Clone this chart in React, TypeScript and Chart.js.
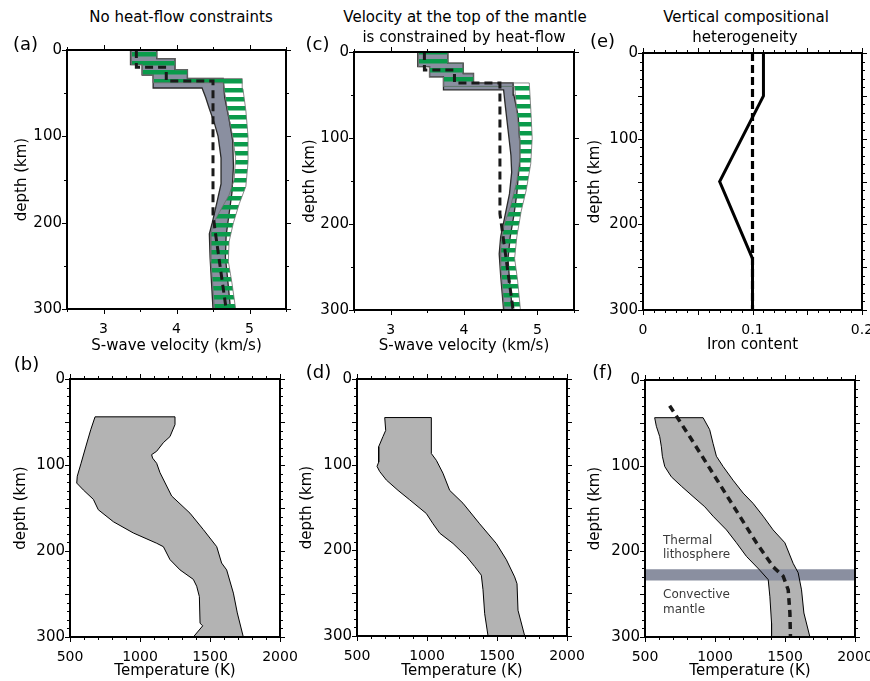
import React, { useEffect, useRef } from 'react';
import { Chart, registerables } from 'chart.js';

Chart.register(...registerables);

type Pt = [number, number];

const FONT = "'DejaVu Sans', 'Liberation Sans', sans-serif";
const GREEN = '#0a9b4b';
const SLATE = '#8a8fa0';
const FILL_GRAY = '#b3b3b3';

// ---------- tick labels ----------
const velocityTicks = [3, 4, 5];
const ironTicks = [0, 0.1, 0.2];
const tempTicks = [500, 1000, 1500, 2000];
const depthTicks = [0, 100, 200, 300];

// ---------- panel (a): [velocity km/s, depth km] ----------
const aGrayBand: Pt[] = [
  [3.37, 0], [3.37, 17], [3.53, 17], [3.53, 29], [3.68, 29], [3.68, 44], [4.35, 44], [4.40, 55], [4.45, 68],
  [4.52, 85], [4.57, 100], [4.61, 125], [4.61, 155], [4.55, 178], [4.49, 200], [4.45, 213], [4.46, 240],
  [4.48, 270], [4.50, 300], [4.74, 300], [4.70, 265], [4.67, 240], [4.68, 215], [4.72, 190], [4.76, 165],
  [4.78, 135], [4.77, 105], [4.72, 80], [4.66, 55], [4.64, 33], [4.15, 33], [4.15, 23], [3.98, 23],
  [3.98, 10], [3.73, 10], [3.73, 0],
];
const aGreenBand: Pt[] = [
  [3.38, 0], [3.38, 17], [3.53, 17], [3.53, 29], [3.68, 29], [3.68, 38], [4.64, 38], [4.66, 50], [4.71, 75],
  [4.77, 100], [4.81, 125], [4.79, 150], [4.72, 168], [4.62, 183], [4.52, 198], [4.47, 213], [4.47, 245],
  [4.50, 275], [4.52, 300], [4.81, 300], [4.76, 270], [4.71, 245], [4.72, 222], [4.78, 200], [4.86, 178],
  [4.95, 158], [4.98, 130], [4.98, 100], [4.95, 70], [4.91, 45], [4.90, 33], [4.15, 33], [4.15, 23],
  [3.98, 23], [3.98, 10], [3.73, 10], [3.73, 0],
];
const aTrueModel: Pt[] = [
  [3.45, 0], [3.45, 20], [3.86, 20], [3.86, 36], [4.50, 36], [4.50, 190], [4.53, 210], [4.68, 300],
];

// ---------- panel (c) ----------
const cGrayBand: Pt[] = [
  [3.37, 0], [3.37, 17], [3.53, 17], [3.53, 29], [3.72, 29], [3.72, 44], [4.54, 44], [4.56, 60], [4.60, 90],
  [4.64, 120], [4.65, 140], [4.62, 165], [4.56, 190], [4.50, 215], [4.48, 235], [4.50, 260], [4.54, 300],
  [4.66, 300], [4.62, 265], [4.60, 240], [4.63, 215], [4.68, 190], [4.72, 165], [4.75, 135], [4.76, 105],
  [4.74, 75], [4.68, 50], [4.67, 36], [4.13, 36], [4.13, 25], [3.99, 25], [3.99, 13], [3.78, 13], [3.78, 0],
];
const cGreenBand: Pt[] = [
  [3.38, 0], [3.38, 17], [3.53, 17], [3.53, 29], [3.72, 29], [3.72, 40], [4.69, 40], [4.72, 70], [4.76, 100],
  [4.76, 125], [4.72, 150], [4.64, 178], [4.55, 200], [4.50, 225], [4.50, 250], [4.53, 280], [4.55, 300],
  [4.77, 300], [4.73, 265], [4.69, 240], [4.72, 215], [4.78, 185], [4.85, 160], [4.91, 130], [4.93, 100],
  [4.91, 65], [4.89, 36], [4.13, 36], [4.13, 25], [3.99, 25], [3.99, 13], [3.78, 13], [3.78, 0],
];
const cTrueModel: Pt[] = [
  [3.46, 0], [3.46, 21], [3.87, 21], [3.87, 36], [4.49, 36], [4.49, 188], [4.67, 300],
];

// ---------- panel (e): [iron content, depth] ----------
const eIronProfile: Pt[] = [[0.11, 0], [0.11, 50], [0.07, 150], [0.10, 240], [0.10, 300]];
const eIronReference: Pt[] = [[0.10, 0], [0.10, 300]];

// ---------- panels (b), (d), (f): [temperature K, depth] ----------
const bTempBand: Pt[] = [
  [679, 44], [648, 59], [614, 78], [579, 98], [552, 113], [548, 121], [595, 129], [667, 140], [702, 152],
  [810, 166], [952, 179], [1119, 191], [1167, 195], [1214, 210], [1286, 222], [1381, 233], [1405, 241],
  [1424, 253], [1429, 284], [1448, 287], [1381, 300], [1738, 300], [1695, 272], [1667, 249], [1619, 222],
  [1583, 214], [1548, 195], [1452, 175], [1357, 156], [1226, 136], [1143, 109], [1119, 98], [1090, 92],
  [1083, 88], [1119, 84], [1167, 74], [1214, 67], [1250, 53], [1250, 44],
];
const dTempBand: Pt[] = [
  [698, 45], [705, 60], [686, 67], [655, 79], [655, 97], [643, 102], [662, 108], [710, 118], [793, 130],
  [876, 141], [995, 157], [1043, 169], [1091, 180], [1186, 192], [1281, 207], [1341, 219], [1388, 229],
  [1400, 246], [1412, 274], [1436, 300], [1698, 300], [1650, 270], [1643, 239], [1626, 231], [1567, 211],
  [1495, 192], [1376, 169], [1257, 145], [1162, 130], [1114, 110], [1067, 95], [1031, 87], [1031, 45],
];
const fTempBand: Pt[] = [
  [569, 44], [581, 54], [605, 66], [617, 78], [624, 89], [641, 101], [688, 113], [760, 124], [843, 136],
  [927, 148], [986, 159], [1082, 175], [1153, 190], [1225, 206], [1320, 222], [1380, 233], [1392, 253],
  [1404, 284], [1404, 300], [1678, 300], [1635, 272], [1618, 245], [1594, 225], [1558, 214], [1499, 190],
  [1415, 175], [1344, 159], [1272, 144], [1201, 132], [1129, 117], [1058, 101], [1010, 89], [986, 74],
  [962, 58], [915, 44],
];
const fTempModel: Pt[] = [
  [676, 30], [819, 66], [939, 97], [1058, 128], [1177, 159], [1296, 190], [1415, 218], [1487, 229],
  [1523, 245], [1535, 272], [1539, 300],
];
const fLithosphereBase: Pt[] = [[500, 221], [2000, 221], [2000, 234], [500, 234]];

// ---------- helpers ----------
const toXY = (pts: Pt[]) => pts.map(([x, y]) => ({ x, y }));

function polygon(pts: Pt[], fill: any, stroke: string, width: number, order: number) {
  return {
    data: toXY([...pts, pts[0]]),
    polyFill: fill,
    borderColor: stroke,
    borderWidth: width,
    fill: false,
    pointRadius: 0,
    tension: 0,
    order,
  };
}
function fillOnly(pts: Pt[], fill: any, order: number) {
  return { data: toXY(pts), polyFill: fill, showLine: false, fill: false, pointRadius: 0, order };
}
function outline(pts: Pt[], stroke: string, width: number, order: number) {
  return { data: toXY([...pts, pts[0]]), borderColor: stroke, borderWidth: width, fill: false, pointRadius: 0, tension: 0, order };
}
function line(pts: Pt[], color: string, width: number, dash: number[], order: number) {
  return {
    data: toXY(pts),
    borderColor: color,
    borderWidth: width,
    borderDash: dash,
    borderCapStyle: 'butt',
    borderJoinStyle: 'miter',
    fill: false,
    pointRadius: 0,
    tension: 0,
    order,
  };
}

const polyFillPlugin = {
  id: 'polyFill',
  beforeDatasetDraw(chart: any, args: any) {
    const ds = chart.data.datasets[args.index];
    if (!ds || !ds.polyFill) return;
    const pts = args.meta.data;
    const { ctx, chartArea: a } = chart;
    ctx.save();
    ctx.beginPath();
    ctx.rect(a.left, a.top, a.right - a.left, a.bottom - a.top);
    ctx.clip();
    ctx.beginPath();
    pts.forEach((p: any, i: number) => (i ? ctx.lineTo(p.x, p.y) : ctx.moveTo(p.x, p.y)));
    ctx.closePath();
    ctx.fillStyle = ds.polyFill;
    ctx.fill();
    ctx.restore();
  },
};

function makeFrame(p: any) {
  return {
    id: 'frame',
    afterDraw(chart: any) {
      const { ctx, chartArea: a, scales } = chart;
      const xs = scales.x;
      const ys = scales.y;
      const isMajor = (v: number, m: number) => Math.abs(v / m - Math.round(v / m)) < 1e-6;
      ctx.save();
      ctx.strokeStyle = '#000';
      ctx.lineWidth = 1;
      ctx.beginPath();
      const nx = Math.round((p.xMax - p.xMin) / p.xMinor);
      for (let i = 0; i <= nx; i++) {
        const v = p.xMin + i * p.xMinor;
        const len = isMajor(v, p.xMajor) ? 5 : 3;
        const px = Math.round(xs.getPixelForValue(v)) + 0.5;
        ctx.moveTo(px, a.top);
        ctx.lineTo(px, a.top - len);
        ctx.moveTo(px, a.bottom);
        ctx.lineTo(px, a.bottom + len);
      }
      const ny = Math.round(300 / p.yMinor);
      for (let i = 0; i <= ny; i++) {
        const v = i * p.yMinor;
        const len = isMajor(v, p.yMajor) ? 5 : 3;
        const py = Math.round(ys.getPixelForValue(v)) + 0.5;
        ctx.moveTo(a.left, py);
        ctx.lineTo(a.left - len, py);
        ctx.moveTo(a.right, py);
        ctx.lineTo(a.right + len, py);
      }
      ctx.stroke();
      ctx.lineWidth = 2;
      ctx.strokeRect(a.left, a.top, a.right - a.left, a.bottom - a.top);
      ctx.restore();
    },
  };
}

function makeStripes(ctx: CanvasRenderingContext2D, offset: number) {
  const c = document.createElement('canvas');
  c.width = 8;
  c.height = 9;
  const g = c.getContext('2d')!;
  g.fillStyle = GREEN;
  g.fillRect(0, 0, 8, 4.5);
  const pat = ctx.createPattern(c, 'repeat')!;
  if ((pat as any).setTransform && typeof DOMMatrix !== 'undefined') {
    pat.setTransform(new DOMMatrix().translate(0, offset));
  }
  return pat;
}

// ---------- panel layout ----------
const PANELS: any[] = [
  {
    canvas: [13, 40, 296, 355], plot: [67, 50, 286, 309], yPad: 5,
    xMin: 2.5, xMax: 5.5, xLabels: velocityTicks, xMinor: 0.5, xMajor: 1, yMinor: 50, yMajor: 100,
    xTitle: 'S-wave velocity (km/s)', stripeOffset: 3,
    datasets: (pat: any) => [
      polygon(aGrayBand, SLATE, '#2a2a2a', 1.3, 3),
      polygon(aGreenBand, pat, '#6e6e6e', 0.8, 2),
      line(aTrueModel, '#1a1a1a', 3, [8, 5], 1),
    ],
  },
  {
    canvas: [301, 42, 584, 355], plot: [354, 52, 574, 310], yPad: 5,
    xMin: 2.5, xMax: 5.5, xLabels: velocityTicks, xMinor: 0.5, xMajor: 1, yMinor: 50, yMajor: 100,
    xTitle: 'S-wave velocity (km/s)', stripeOffset: 8,
    datasets: (pat: any) => [
      polygon(cGrayBand, SLATE, '#2a2a2a', 1.3, 3),
      polygon(cGreenBand, pat, '#6e6e6e', 0.8, 2),
      line(cTrueModel, '#1a1a1a', 3, [8, 5], 1),
    ],
  },
  {
    canvas: [586, 43, 870, 354], plot: [643, 53, 862, 310], yPad: 5,
    xMin: 0, xMax: 0.2, xLabels: ironTicks, xMinor: 0.01, xMajor: 0.05, yMinor: 10, yMajor: 50,
    xTitle: 'Iron content',
    datasets: () => [
      line(eIronReference, '#000', 3.2, [8, 4], 2),
      line(eIronProfile, '#000', 3, [], 1),
    ],
  },
  {
    canvas: [12, 369, 300, 680], plot: [70, 379, 280, 637], yPad: 5,
    xMin: 500, xMax: 2000, xLabels: tempTicks, xMinor: 100, xMajor: 500, yMinor: 10, yMajor: 50,
    xTitle: 'Temperature (K)',
    datasets: () => [polygon(bTempBand, FILL_GRAY, '#000', 1, 1)],
  },
  {
    canvas: [298, 369, 587, 680], plot: [357, 379, 567, 636], yPad: 5,
    xMin: 500, xMax: 2000, xLabels: tempTicks, xMinor: 100, xMajor: 500, yMinor: 10, yMajor: 50,
    xTitle: 'Temperature (K)',
    datasets: () => [polygon(dTempBand, FILL_GRAY, '#000', 1, 1)],
  },
  {
    canvas: [586, 370, 870, 680], plot: [645, 380, 855, 637], yPad: 5,
    xMin: 500, xMax: 2000, xLabels: tempTicks, xMinor: 100, xMajor: 500, yMinor: 10, yMajor: 50,
    xTitle: 'Temperature (K)',
    datasets: () => [
      fillOnly(fTempBand, FILL_GRAY, 4),
      fillOnly(fLithosphereBase, SLATE, 3),
      outline(fTempBand, '#000', 1, 2),
      line(fTempModel, '#1a1a1a', 3.5, [7, 5], 1),
    ],
  },
];

function buildConfig(p: any, datasets: any[]) {
  const [cl, ct, cr, cb] = p.canvas;
  const [pl, pt, pr, pb] = p.plot;
  return {
    type: 'line',
    data: { datasets },
    options: {
      animation: false,
      responsive: false,
      maintainAspectRatio: false,
      devicePixelRatio: 1,
      events: [],
      layout: { padding: { left: 0, top: pt - ct, right: cr - pr, bottom: 0 } },
      plugins: { legend: { display: false }, tooltip: { enabled: false }, title: { display: false } },
      scales: {
        x: {
          type: 'linear',
          position: 'bottom',
          min: p.xMin,
          max: p.xMax,
          grid: { display: false, drawTicks: false },
          border: { display: false },
          ticks: {
            autoSkip: false,
            maxRotation: 0,
            minRotation: 0,
            padding: 12,
            color: '#000',
            font: { family: FONT, size: 14 },
            callback: (v: any) => String(v),
          },
          afterBuildTicks: (s: any) => {
            s.ticks = p.xLabels.map((v: number) => ({ value: v }));
          },
          afterFit: (s: any) => {
            s.height = cb - pb;
            s.paddingLeft = 0;
            s.paddingRight = 0;
          },
          title: {
            display: true,
            text: p.xTitle,
            color: '#000',
            font: { family: FONT, size: 15, lineHeight: 1.2 },
            padding: { top: 0, bottom: 0 },
          },
        },
        y: {
          type: 'linear',
          position: 'left',
          reverse: true,
          min: 0,
          max: 300,
          grid: { display: false, drawTicks: false },
          border: { display: false },
          ticks: {
            autoSkip: false,
            padding: p.yPad,
            color: '#000',
            font: { family: FONT, size: 15 },
            callback: (v: any) => String(v),
          },
          afterBuildTicks: (s: any) => {
            s.ticks = depthTicks.map((v) => ({ value: v }));
          },
          afterFit: (s: any) => {
            s.width = pl - cl;
            s.paddingTop = 0;
            s.paddingBottom = 0;
          },
          title: {
            display: true,
            text: 'depth (km)',
            color: '#000',
            font: { family: FONT, size: 15, lineHeight: 1.2 },
            padding: { top: 0, bottom: 0 },
          },
        },
      },
    },
    plugins: [polyFillPlugin, makeFrame(p)],
  };
}

const TEXTS = [
  { t: 'No heat-flow constraints', x: 181, y: 17, s: 15 },
  { t: 'Velocity at the top of the mantle', x: 465, y: 17, s: 15 },
  { t: 'is constrained by heat-flow', x: 464, y: 37, s: 15 },
  { t: 'Vertical compositional', x: 746, y: 17, s: 15 },
  { t: 'heterogeneity', x: 745, y: 37, s: 15 },
  { t: '(a)', x: 25.5, y: 44, s: 18 },
  { t: '(c)', x: 317.5, y: 44, s: 18 },
  { t: '(e)', x: 602.5, y: 41, s: 18 },
  { t: '(b)', x: 26.5, y: 364, s: 18 },
  { t: '(d)', x: 318.5, y: 372, s: 18 },
  { t: '(f)', x: 602.5, y: 372, s: 18 },
];
const NOTES = [
  { t: 'Thermal', x: 663, y: 540 },
  { t: 'lithosphere', x: 663, y: 554 },
  { t: 'Convective', x: 663, y: 594 },
  { t: 'mantle', x: 663, y: 609 },
];

export default function App() {
  const refs = useRef<(HTMLCanvasElement | null)[]>([]);

  useEffect(() => {
    const charts = PANELS.map((p, i) => {
      const cv = refs.current[i]!;
      const ctx = cv.getContext('2d')!;
      const pat = makeStripes(ctx, p.stripeOffset || 0);
      return new Chart(ctx, buildConfig(p, p.datasets(pat)) as any);
    });
    return () => charts.forEach((c) => c.destroy());
  }, []);

  return (
    <div
      style={{
        position: 'absolute',
        left: 0,
        top: 0,
        width: 870,
        height: 681,
        background: '#fff',
        overflow: 'hidden',
        fontFamily: FONT,
        color: '#000',
      }}
    >
      {PANELS.map((p, i) => {
        const [cl, ct, cr, cb] = p.canvas;
        return (
          <canvas
            key={i}
            ref={(el) => {
              refs.current[i] = el;
            }}
            width={cr - cl}
            height={cb - ct}
            style={{ position: 'absolute', left: cl, top: ct, width: cr - cl, height: cb - ct }}
          />
        );
      })}
      {TEXTS.map((d, i) => (
        <div
          key={'t' + i}
          style={{
            position: 'absolute',
            left: d.x,
            top: d.y,
            transform: 'translate(-50%, -50%)',
            fontSize: d.s,
            whiteSpace: 'nowrap',
            lineHeight: 1.2,
          }}
        >
          {d.t}
        </div>
      ))}
      {NOTES.map((d, i) => (
        <div
          key={'n' + i}
          style={{
            position: 'absolute',
            left: d.x,
            top: d.y,
            transform: 'translate(0, -50%)',
            fontSize: 12,
            color: '#3a3a3a',
            whiteSpace: 'nowrap',
            lineHeight: 1.2,
          }}
        >
          {d.t}
        </div>
      ))}
    </div>
  );
}
